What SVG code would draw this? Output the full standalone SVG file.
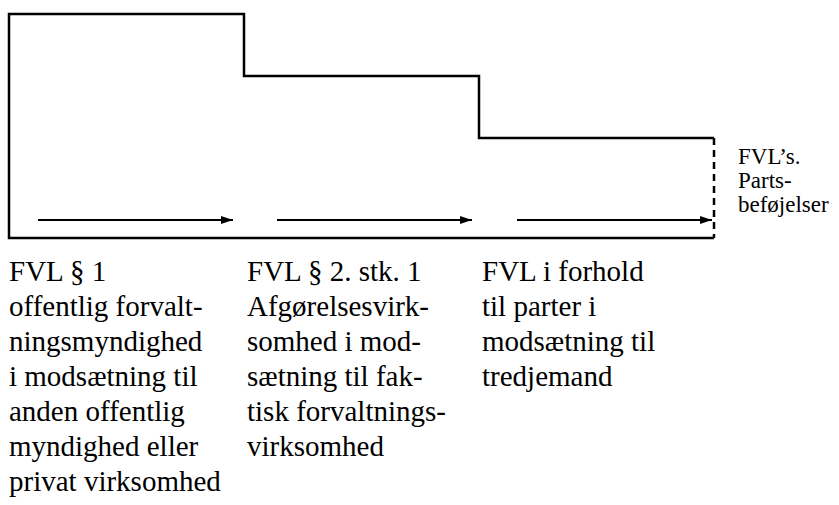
<svg xmlns="http://www.w3.org/2000/svg" width="839" height="505" viewBox="0 0 839 505">
<style>
.outline{fill:none;stroke:#000;stroke-width:2.5;stroke-linejoin:miter}
.dash{fill:none;stroke:#000;stroke-width:2.5;stroke-dasharray:7,5}
.arrow{stroke:#000;stroke-width:2.2;fill:none}
.t{font-family:"Liberation Serif","Times New Roman",serif;font-size:29px;fill:#000}
.s{font-family:"Liberation Serif","Times New Roman",serif;font-size:23px;fill:#000}
</style>
<defs>
<marker id="ah" markerWidth="12" markerHeight="8" refX="12" refY="4" orient="auto" markerUnits="userSpaceOnUse">
<path d="M0,0 L12,4 L0,8 Z" fill="#000"/>
</marker>
</defs>
<g id="staircase">
<path class="outline" d="M714,138 L479,138 L479,76 L244,76 L244,14 L9,14 L9,238 L714,238"/>
<path class="dash" d="M714,138 L714,238"/>
</g>
<g id="connectors">
<line class="arrow" x1="38" y1="220" x2="233" y2="220" marker-end="url(#ah)"/>
<line class="arrow" x1="277" y1="220" x2="472" y2="220" marker-end="url(#ah)"/>
<line class="arrow" x1="517" y1="220" x2="712" y2="220" marker-end="url(#ah)"/>
</g>
<g id="label-parts">
<text class="s" x="738" y="164">FVL’s.</text>
<text class="s" x="738" y="188">Parts-</text>
<text class="s" x="738" y="212">beføjelser</text>
</g>
<g id="col1">
<text class="t" x="9" y="281">FVL § 1</text>
<text class="t" x="9" y="316">offentlig forvalt-</text>
<text class="t" x="9" y="351">ningsmyndighed</text>
<text class="t" x="9" y="386">i modsætning til</text>
<text class="t" x="9" y="421">anden offentlig</text>
<text class="t" x="9" y="456">myndighed eller</text>
<text class="t" x="9" y="491">privat virksomhed</text>
</g>
<g id="col2">
<text class="t" x="247" y="281">FVL § 2. stk. 1</text>
<text class="t" x="247" y="316">Afgørelsesvirk-</text>
<text class="t" x="247" y="351">somhed i mod-</text>
<text class="t" x="247" y="386">sætning til fak-</text>
<text class="t" x="247" y="421">tisk forvaltnings-</text>
<text class="t" x="247" y="456">virksomhed</text>
</g>
<g id="col3">
<text class="t" x="482" y="281">FVL i forhold</text>
<text class="t" x="482" y="316">til parter i</text>
<text class="t" x="482" y="351">modsætning til</text>
<text class="t" x="482" y="386">tredjemand</text>
</g>
</svg>
